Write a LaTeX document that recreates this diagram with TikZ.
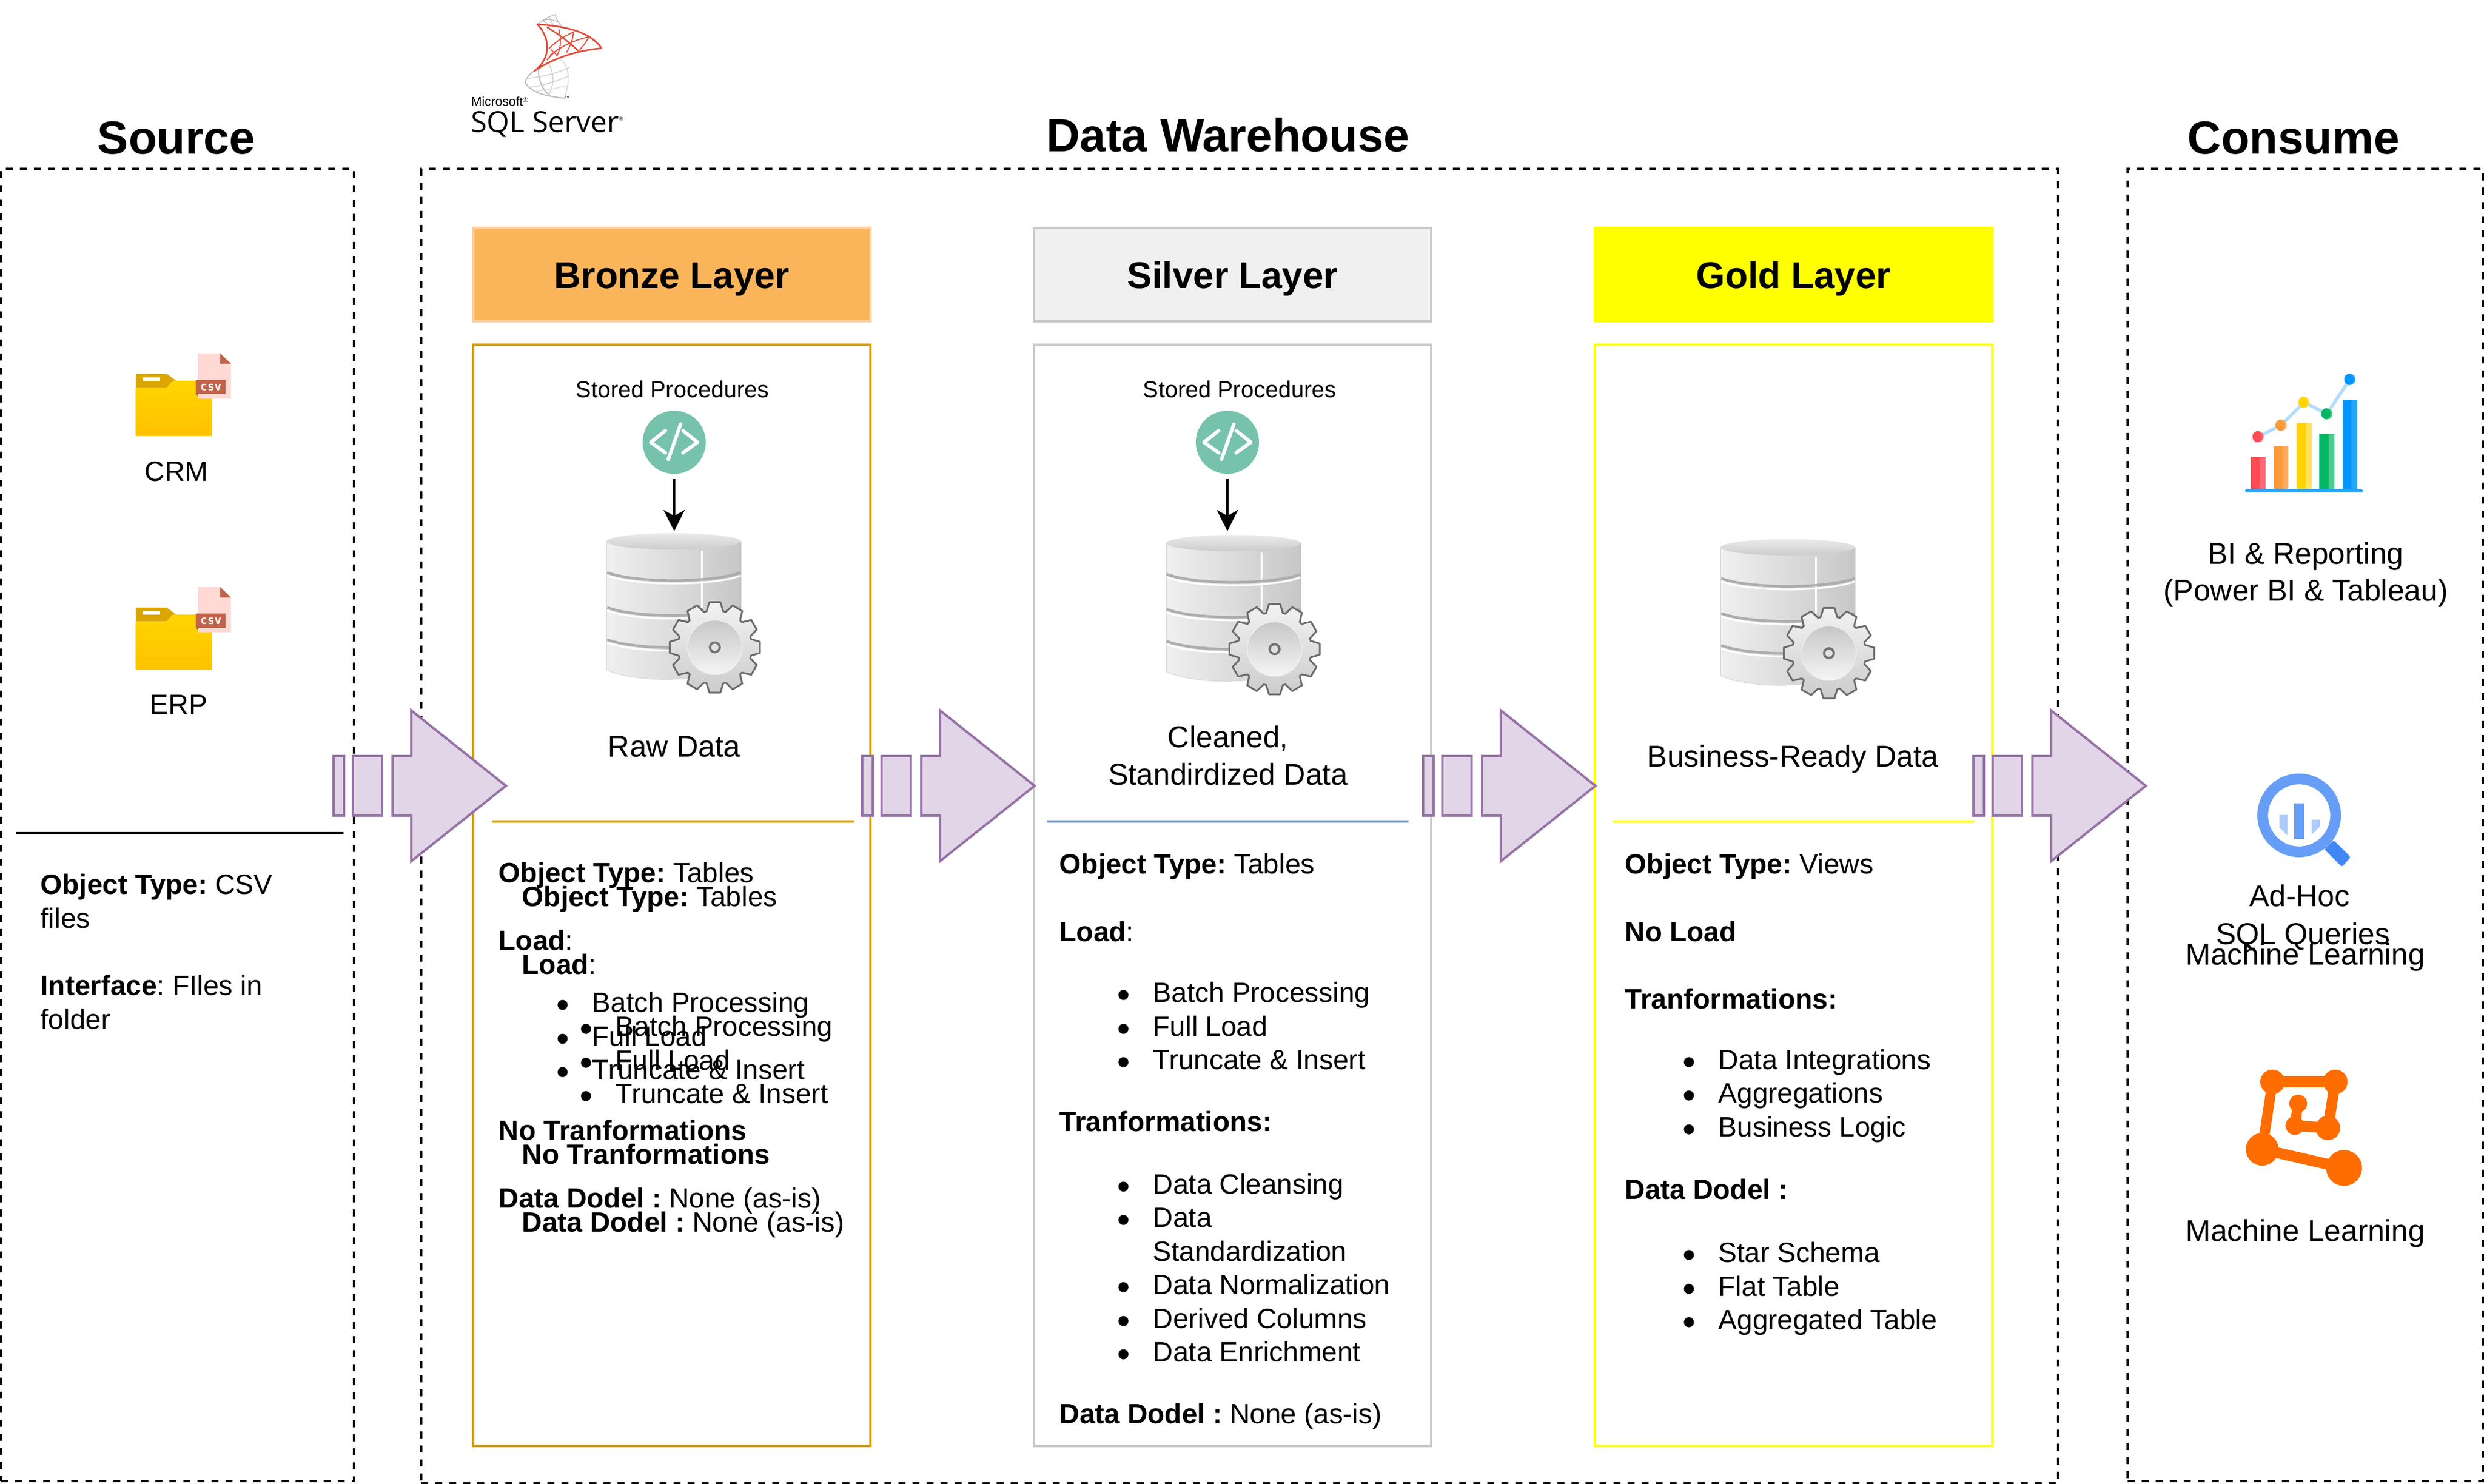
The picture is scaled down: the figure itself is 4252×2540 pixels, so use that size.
\documentclass[tikz,border=0pt]{standalone}
\usepackage{fontspec}
\setmainfont{Liberation Sans}
\newfontfamily\csvfont{DejaVu Sans Mono}
\newfontfamily\logofont{Open Sans}
\usetikzlibrary{arrows.meta}

\definecolor{bronzefill}{HTML}{FAB45A}
\definecolor{bronzeedge}{HTML}{FFCE9F}
\definecolor{bronzeline}{HTML}{D79B00}
\definecolor{silverfill}{HTML}{F0F0F0}
\definecolor{silverline}{HTML}{C8C8C8}
\definecolor{silverrule}{HTML}{6C8EBF}
\definecolor{goldfill}{RGB}{255,255,0}
\definecolor{flowfill}{HTML}{E1D5E7}
\definecolor{flowline}{HTML}{9673A6}
\definecolor{codegreen}{HTML}{76C2AB}
\definecolor{csvred}{HTML}{C0634A}
\definecolor{csvpage}{HTML}{FFD9D3}
\definecolor{foldertab}{HTML}{DBA600}
\definecolor{foldertop}{HTML}{FFD500}
\definecolor{folderbottom}{HTML}{FFC200}
\definecolor{logored}{HTML}{DF4F3C}
\definecolor{loggray}{HTML}{BDBDBD}
\definecolor{lensblue}{HTML}{669DF6}
\definecolor{lensdark}{HTML}{4285F4}
\definecolor{lenslight}{HTML}{AECBFA}
\definecolor{mlorange}{HTML}{FF6D00}
\definecolor{lineblue}{HTML}{B4DCFB}
\definecolor{barred}{HTML}{FF4B55}
\definecolor{barredl}{HTML}{FF6A75}
\definecolor{barorange}{HTML}{FF9A38}
\definecolor{barorangel}{HTML}{FFA95F}
\definecolor{baryellow}{HTML}{FFD400}
\definecolor{baryellowl}{HTML}{FFE15A}
\definecolor{bargreen}{HTML}{00B864}
\definecolor{bargreenl}{HTML}{4ACB8F}
\definecolor{barblue}{HTML}{0095FF}
\definecolor{barbluel}{HTML}{25A6FF}

\newcommand{\titlefont}{\fontsize{22.65}{27}\selectfont\bfseries}
\newcommand{\headfont}{\fontsize{18.1}{22}\selectfont\bfseries}
\newcommand{\bodyfont}{\fontsize{13.57}{16.36}\selectfont\frenchspacing}
\newcommand{\labelfont}{\fontsize{14.65}{17.92}\selectfont}
\newcommand{\lstline}[1]{\hspace*{.99cm}\makebox[.61cm][l]{\raisebox{-.09cm}{\fontsize{18}{18}\selectfont\textbullet}}#1}
\newcommand{\chartbar}[4]{\fill[#4] (#1,#2) rectangle (#1+76,655);\fill[#3] (#1,#2) rectangle (#1+46,655);}
\newcommand{\chartdot}[4]{\fill[#4] (#1,#2) circle (29);\begin{scope}\clip (#1,#2) circle (29);\fill[#3] (#1-10,#2) circle (29);\end{scope}}
\newcommand{\bronzebody}{\strut\textbf{Object Type:} Tables\\[.575cm]
\textbf{Load}:\\[.49cm]
\lstline{Batch Processing}\\
\lstline{Full Load}\\
\lstline{Truncate \& Insert}\\[.465cm]
\textbf{No Tranformations}\\[.585cm]
\textbf{Data Dodel :} None (as-is)}

\tikzset{
  dashbox/.style={draw=black,line width=.04cm,dash pattern=on .12cm off .12cm,minimum width=#1,inner sep=0},
  layerhead/.style={line width=.04cm,minimum width=6.8cm,minimum height=1.6cm,font=\headfont,text height=.66cm,text depth=.2cm,inner sep=0},
  layerpanel/.style={draw=#1,line width=.04cm,minimum width=6.8cm,minimum height=18.83cm,inner sep=0},
  rulerline/.style={line width=.04cm},
  titletext/.style={font=\titlefont,anchor=base,inner sep=0},
  plainlabel/.style={font=\labelfont,anchor=base,inner sep=0},
  smalllabel/.style={font=\fontsize{11.27}{13.5}\selectfont,anchor=base,inner sep=0},
  bodylabel/.style={font=\bodyfont,anchor=base,inner sep=0},
  twolines/.style={font=\labelfont,anchor=north,align=center,inner sep=0},
  bodyblock/.style={font=\bodyfont,anchor=north west,align=left,inner sep=0},
  flowpart/.style={fill=flowfill,draw=flowline,line width=.04cm},
  procflow/.style={line width=.04cm,-{Stealth[length=.36cm,width=.36cm,inset=.1cm]},shorten <=.08cm},
  foldericon/.pic={
    \begin{scope}[x=.00333cm,y=-.00333cm]
    \shade[top color=foldertop,bottom color=folderbottom] (98,281) -- (255,281) -- (290,245) -- (490,245) -- (490,530) -- (98,530) -- cycle;
    \fill[foldertab] (98,210) -- (255,210) -- (305,245) -- (290,245) -- (255,281) -- (98,281) -- cycle;
    \fill[white] (133,228) rectangle (223,245);
    \fill[csvpage] (418,105) -- (532,105) -- (587,158) -- (587,338) -- (418,338) -- cycle;
    \fill[csvred] (532,105) -- (587,158) -- (532,158) -- cycle;
    \fill[csvred!80!black] (407,314) -- (418,324) -- (418,314) -- cycle;
    \fill[csvred] (407,241) rectangle (560,314);
    \node[text=white,font=\csvfont\bfseries\fontsize{5.7}{6}\selectfont,inner sep=0] at (484,279) (-label) {csv};
    \end{scope}
  },
  codeicon/.pic={
    \node[circle,fill=codegreen,minimum size=1.08cm,inner sep=0] at (0,0) (-disc) {};
    \draw[white,line width=.06cm,line cap=round,line join=round] (-15,-20) -- (-40,0) -- (-15,18);
    \draw[white,line width=.06cm,line cap=round,line join=round] (15,-20) -- (40,0) -- (15,18);
    \draw[white,line width=.06cm,line cap=round] (11,-31) -- (-10,29);
  },
  dbgear/.pic={
    \begin{scope}[x=.00333cm,y=-.00333cm]
    \shade[left color=black!6,middle color=black!1,right color=black!22] (55,80) -- (55,740) .. controls (120,775) and (280,795) .. (400,790) .. controls (560,790) and (690,775) .. (748,740) -- (748,80) -- cycle;
    \draw[black!16,line width=.01cm] (55,80) -- (55,740) .. controls (120,775) and (280,795) .. (400,790);
    \draw[white,line width=.03cm] (545,130) -- (545,420);
    \shade[top color=black!8,bottom color=black!20] (400,80) ellipse (345 and 42);
    \draw[white,line width=.03cm] (58,256) .. controls (200,311) and (600,311) .. (745,256);
    \draw[white,line width=.03cm] (58,436) .. controls (200,491) and (600,491) .. (745,436);
    \draw[white,line width=.03cm] (58,601) .. controls (200,656) and (600,656) .. (745,601);
    \draw[black!32,line width=.045cm] (58,240) .. controls (200,295) and (600,295) .. (745,240);
    \draw[black!32,line width=.045cm] (58,420) .. controls (200,475) and (600,475) .. (745,420);
    \draw[black!32,line width=.045cm] (58,585) .. controls (200,640) and (600,640) .. (745,585);
    \end{scope}
    \begin{scope}[x=.00333cm,y=-.00333cm,shift={(612,625)}]
    \shadedraw[top color=black!5,bottom color=black!20,draw=black!58,line width=.03cm,line join=round] (-13:190) \foreach \a in {0,30,...,330} { -- (\a-13:190) -- (\a-7:234) -- (\a+7:234) -- (\a+13:190) } -- cycle;
    \shadedraw[top color=black!22,bottom color=black!4,draw=black!6,line width=.012cm] (0,0) circle (140);
    \draw[black!55,fill=black!12,line width=.04cm] (0,0) circle (25);
    \end{scope}
  },
  flowarrow/.pic={
    \draw[flowpart] (0,-51) rectangle (18,51);
    \draw[flowpart] (33,-51) rectangle (83,51);
    \draw[flowpart,line join=miter] (101,-51) -- (133,-51) -- (133,-129) -- (295,0) -- (133,129) -- (133,51) -- (101,51) -- cycle;
  },
}

\begin{document}
\begin{tikzpicture}[x=.01cm,y=-.01cm]
\useasboundingbox (0,0) rectangle (4252,2540);
\node[dashbox=6.04cm,minimum height=22.44cm] at (304,1412) (sourcebox) {};
\node[dashbox=28cm,minimum height=22.48cm] at (2122,1414) (warehousebox) {};
\node[dashbox=6.08cm,minimum height=22.44cm] at (3946,1412) (consumebox) {};

\node[titletext] at (302,264) (sourcetitle) {Source};
\node[titletext] at (2102,260) (warehousetitle) {Data Warehouse};
\node[titletext] at (3926,264) (consumetitle) {Consume};

\node[layerhead,fill=bronzefill,draw=bronzeedge] at (1150,470) (bronzehead) {Bronze Layer};
\node[layerhead,fill=silverfill,draw=silverline] at (2110,470) (silverhead) {Silver Layer};
\node[layerhead,fill=goldfill,draw=goldfill] at (3070,470) (goldhead) {Gold Layer};
\node[layerpanel=bronzeline] at (1150,1532.5) (bronzepanel) {};
\node[layerpanel=silverline] at (2110,1532.5) (silverpanel) {};
\node[layerpanel=goldfill] at (3070,1532.5) (goldpanel) {};

% sql server logo
\begin{scope}[shift={(780,0)},x=.00333cm,y=-.00333cm]
\draw[loggray,line width=.015cm] (422,125) .. controls (450,100) and (480,85) .. (512,75) .. controls (518,100) and (530,120) .. (545,135);
\draw[loggray,line width=.012cm] (445,105) .. controls (465,115) and (475,130) .. (480,135);
\draw[loggray,line width=.012cm] (480,88) .. controls (490,105) and (500,125) .. (505,140);
\draw[loggray,line width=.012cm] (450,105) .. controls (470,98) and (500,100) .. (525,112);
\draw[loggray,line width=.02cm] (410,362) .. controls (385,375) and (365,395) .. (358,425) .. controls (390,480) and (470,495) .. (560,505);
\draw[loggray,line width=.02cm] (428,350) .. controls (420,410) and (450,470) .. (490,495);
\draw[loggray!70,line width=.015cm] (480,330) .. controls (505,380) and (510,430) .. (480,485);
\draw[loggray!60,line width=.015cm] (540,305) .. controls (585,340) and (590,420) .. (560,500);
\draw[loggray!70,line width=.015cm] (365,405) .. controls (440,395) and (520,380) .. (585,345);
\draw[loggray!70,line width=.015cm] (375,450) .. controls (450,440) and (520,420) .. (582,390);
\draw[loggray!60,line width=.012cm] (400,470) .. controls (460,465) and (520,455) .. (575,440);
\draw[logored,line width=.028cm,line join=round] (420,125) .. controls (560,135) and (690,160) .. (750,248) .. controls (620,260) and (500,300) .. (405,365) .. controls (490,300) and (490,200) .. (420,125) -- cycle;
\draw[logored,line width=.018cm] (530,150) .. controls (545,200) and (540,250) .. (520,290);
\draw[logored,line width=.018cm] (605,165) .. controls (605,200) and (590,235) .. (570,270);
\draw[logored,line width=.018cm] (685,190) .. controls (670,220) and (650,245) .. (630,262);
\draw[logored,line width=.026cm] (470,140) .. controls (520,170) and (590,220) .. (630,262);
\draw[logored,line width=.018cm] (480,250) .. controls (520,210) and (560,185) .. (605,165);
\draw[logored,line width=.018cm] (485,285) .. controls (540,240) and (610,205) .. (685,190);
\draw[logored,line width=.018cm] (490,255) .. controls (500,265) and (510,270) .. (520,285);
\draw[logored,line width=.02cm] (470,310) .. controls (480,295) and (495,280) .. (510,265);
\end{scope}
\node[font=\fontsize{6.2}{7}\selectfont,anchor=base west,inner sep=0] at (806,182) (logotop) {Microsoft\raisebox{.3em}{\fontsize{3.5}{4}\selectfont ®}};
\node[font=\logofont\fontsize{14.1}{16}\selectfont,anchor=base west,inner sep=0] at (806,227) (logoname) {SQL Server\raisebox{.42em}{\fontsize{2.5}{3}\selectfont ®}};
\node[font=\fontsize{2.5}{3}\selectfont,inner sep=0] at (971,167) (logomark) {™};

% source
\pic (crmicon) at (200,570) {foldericon};
\pic (erpicon) at (200,970) {foldericon};
\node[bodylabel] at (302,823) (crmlabel) {CRM};
\node[bodylabel] at (306,1222) (erplabel) {ERP};
\coordinate (sourceruleleft) at (27,1426);
\coordinate (sourceruleright) at (588,1426);
\draw[rulerline] (sourceruleleft) -- (sourceruleright);
\node[bodyblock] at (69,1490) (sourcetext) {\strut\textbf{Object Type:} CSV\\files\\[.575cm]\textbf{Interface}: FIles in\\folder};

% bronze
\node[smalllabel] at (1151,681) (bronzeproc) {Stored Procedures};
\pic (bronzecode) at (1154,757) {codeicon};
\pic (bronzedb) at (1020,900) {dbgear};
\coordinate (bronzein) at (1154,909);
\draw[procflow] (bronzecode-disc) -- (bronzein);
\node[plainlabel] at (1154,1295) (bronzelabel) {Raw Data};
\coordinate (bronzeruleleft) at (842,1406);
\coordinate (bronzeruleright) at (1462,1406);
\draw[rulerline,bronzeline] (bronzeruleleft) -- (bronzeruleright);
\node[bodyblock] at (853,1470) (bronzetext) {\bronzebody};
\node[bodyblock] at (893,1511) (bronzetexttwo) {\bronzebody};

% silver
\node[smalllabel] at (2122,681) (silverproc) {Stored Procedures};
\pic (silvercode) at (2101,757) {codeicon};
\pic (silverdb) at (1978,903) {dbgear};
\coordinate (silverin) at (2101,909);
\draw[procflow] (silvercode-disc) -- (silverin);
\node[twolines,font=\fontsize{14.65}{18.2}\selectfont] at (2102,1234) (silverlabel) {\strut Cleaned,\\Standirdized Data};
\coordinate (silverruleleft) at (1793,1406);
\coordinate (silverruleright) at (2411,1406);
\draw[rulerline,silverrule] (silverruleleft) -- (silverruleright);
\node[bodyblock] at (1813,1455) (silvertext) {\strut\textbf{Object Type:} Tables\\[.575cm]
\textbf{Load}:\\[.47cm]
\lstline{Batch Processing}\\
\lstline{Full Load}\\
\lstline{Truncate \& Insert}\\[.485cm]
\textbf{Tranformations:}\\[.49cm]
\lstline{Data Cleansing}\\
\lstline{Data}\\
\hspace*{1.6cm}Standardization\\
\lstline{Data Normalization}\\
\lstline{Derived Columns}\\
\lstline{Data Enrichment}\\[.48cm]
\textbf{Data Dodel :} None (as-is)};

% gold
\pic (golddb) at (2927,910) {dbgear};
\node[plainlabel] at (3069,1312) (goldlabel) {Business-Ready Data};
\coordinate (goldruleleft) at (2761,1406);
\coordinate (goldruleright) at (3380,1406);
\draw[rulerline,goldfill] (goldruleleft) -- (goldruleright);
\node[bodyblock] at (2781,1455) (goldtext) {\strut\textbf{Object Type:} Views\\[.575cm]
\textbf{No Load}\\[.58cm]
\textbf{Tranformations:}\\[.46cm]
\lstline{Data Integrations}\\
\lstline{Aggregations}\\
\lstline{Business Logic}\\[.5cm]
\textbf{Data Dodel :}\\[.505cm]
\lstline{Star Schema}\\
\lstline{Flat Table}\\
\lstline{Aggregated Table}};

% consume
\begin{scope}[shift={(3820,620)},x=.00333cm,y=-.00333cm]
\draw[lineblue,line width=.055cm] (136,383) -- (254,324) -- (372,206) -- (490,265) -- (608,88);
\chartbar{98}{488}{barred}{barredl}
\chartbar{216}{429}{barorange}{barorangel}
\chartbar{334}{311}{baryellow}{baryellowl}
\chartbar{452}{370}{bargreen}{bargreenl}
\chartbar{570}{192}{barblue}{barbluel}
\draw[barbluel,line width=.06cm,line cap=round] (78,662) -- (666,662);
\chartdot{136}{383}{barred}{barredl}
\chartdot{254}{324}{barorange}{barorangel}
\chartdot{372}{206}{baryellow}{baryellowl}
\chartdot{490}{265}{bargreen}{bargreenl}
\chartdot{608}{88}{barblue}{barbluel}
\end{scope}
\node[twolines] at (3947,921) (bilabel) {\strut BI \& Reporting\\(Power BI \& Tableau)};

\begin{scope}[shift={(3840,1310)},x=.00333cm,y=-.00333cm]
\fill[lensdark,rounded corners=.03cm] (465,385) -- (552,472) -- (507,522) -- (417,432) -- cycle;
\fill[lensblue,even odd rule] (287,257) circle (215) (287,257) circle (160);
\fill[lensblue] (261,196) rectangle (312,378);
\fill[lenslight] (185,254) -- (227,254) -- (227,360) -- (185,320) -- cycle;
\fill[lenslight] (351,279) -- (393,279) -- (393,315) -- (351,357) -- cycle;
\end{scope}
\node[plainlabel] at (3936,1551) (adhoclabel) {Ad-Hoc};
\node[plainlabel] at (3942,1616) (sqllabel) {SQL Queries};
\node[plainlabel] at (3946,1651) (mllabelone) {Machine Learning};

\begin{scope}[shift={(3820,1810)},x=.00333cm,y=-.00333cm]
\draw[mlorange,line width=.19cm] (210,125) -- (533,125);
\draw[mlorange,line width=.175cm] (210,125) -- (157,472);
\draw[mlorange,line width=.185cm] (533,125) -- (495,362);
\draw[mlorange,line width=.185cm] (157,472) -- (578,568);
\draw[mlorange,line width=.185cm] (495,362) -- (325,350);
\draw[mlorange,line width=.175cm] (325,350) -- (342,237);
\fill[mlorange] (210,125) circle (63) (533,125) circle (63) (157,472) circle (84) (578,568) circle (92) (495,362) circle (63) (325,350) circle (48) (342,237) circle (46);
\end{scope}
\node[plainlabel] at (3946,2124) (mllabeltwo) {Machine Learning};

% flow
\pic (sourceflow) at (571,1345) {flowarrow};
\pic (bronzeflow) at (1476,1345) {flowarrow};
\pic (silverflow) at (2436,1345) {flowarrow};
\pic (goldflow) at (3378,1345) {flowarrow};
\end{tikzpicture}
\end{document}
